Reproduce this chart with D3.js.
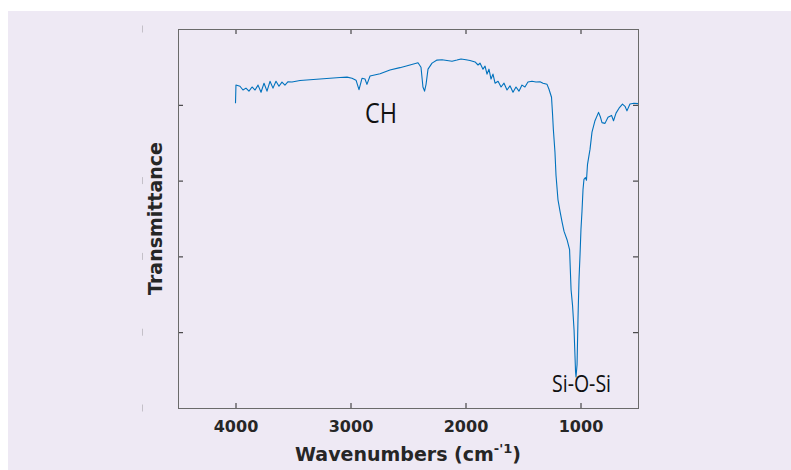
<!DOCTYPE html>
<html>
<head>
<meta charset="utf-8">
<script src="https://cdn.jsdelivr.net/npm/d3@7"></script>
<style>
  html, body { margin: 0; padding: 0; background: #ffffff; }
  svg { display: block; }
</style>
</head>
<body>
<svg id="chart" width="791" height="470"></svg>
<script>
// FTIR spectrum: wavenumber (cm^-1) against transmittance (arbitrary %)
const wavenumbers = [
  4000, 3996, 3961, 3935, 3909, 3883, 3856, 3830, 3804, 3778,
  3752, 3726, 3700, 3674, 3648, 3622, 3596, 3570, 3543, 3509,
  3439, 3352, 3265, 3178, 3091, 3030, 2987, 2952, 2926, 2900,
  2874, 2857, 2830, 2743, 2657, 2570, 2483, 2413, 2387, 2370,
  2356, 2343, 2326, 2291, 2248, 2204, 2161, 2117, 2074, 2039,
  1996, 1961, 1917, 1891, 1874, 1848, 1830, 1813, 1796, 1778,
  1761, 1743, 1717, 1691, 1665, 1639, 1613, 1587, 1561, 1535,
  1509, 1483, 1457, 1422, 1387, 1352, 1326, 1291, 1274, 1252,
  1243, 1236, 1222, 1213, 1196, 1178, 1161, 1143, 1117, 1095,
  1082, 1069, 1056, 1048, 1043, 1039, 1030, 1022, 1013, 1004,
  996, 987, 978, 970, 957, 948, 939, 917, 900, 874,
  843, 826, 813, 787, 761, 730, 713, 691, 665, 635,
  613, 596, 570, 535, 500
];
const transmittance = [
  80.4, 85.2, 84.9, 83.9, 84.4, 83.6, 84.7, 83.9, 85.2, 83.3,
  85.7, 83.6, 86.2, 84.4, 86.2, 84.9, 86.0, 85.2, 86.1, 86.0,
  86.4, 86.6, 86.8, 87.0, 87.2, 87.3, 87.0, 86.5, 84.0, 87.0,
  86.8, 85.4, 87.6, 88.2, 89.2, 89.8, 90.5, 91.1, 89.9, 84.7,
  83.6, 85.4, 89.4, 91.0, 91.8, 91.9, 91.7, 91.5, 91.8, 92.1,
  91.9, 91.7, 91.3, 90.5, 91.0, 89.4, 90.2, 88.1, 89.4, 86.8,
  88.1, 85.7, 86.2, 84.7, 85.7, 83.9, 85.0, 83.3, 84.7, 83.6,
  85.2, 84.7, 86.0, 86.2, 86.0, 86.1, 85.7, 85.4, 84.1, 82.0,
  77.5, 73.5, 67.5, 61.4, 55.0, 51.9, 49.2, 46.6, 44.4, 41.8,
  31.2, 27.0, 20.6, 13.8, 9.5, 8.2, 11.4, 23.3, 33.9, 40.5,
  47.1, 51.9, 57.7, 60.3, 60.8, 60.1, 64.3, 68.3, 72.8, 75.8,
  78.0, 76.7, 75.3, 75.1, 76.7, 77.2, 75.8, 77.8, 79.1, 80.2,
  79.6, 78.4, 80.2, 80.4, 80.3
];

// axis ticks
const xTicks = [4000, 3000, 2000, 1000];
const yTicks = [20, 40, 60, 80];

// band annotations: label, wavenumber, transmittance of the text baseline
const bandLabels = ["CH", "Si-O-Si"];
const bandWavenumbers = [2735, 991];
const bandLevels = [75.3, 4.2];

const svg = d3.select("#chart");
const W = 791, H = 470;
const plot = { left: 178, right: 638, top: 29, bottom: 408 };

// figure panel
svg.append("rect")
  .attr("x", 8).attr("y", 11)
  .attr("width", W - 8).attr("height", H - 11)
  .attr("fill", "#eee9f4");

const x = d3.scaleLinear().domain([4500, 500]).range([plot.left, plot.right]);
const y = d3.scaleLinear().domain([0, 100]).range([plot.bottom, plot.top]);

// faint stray tick marks left of the axes
const ghost = d3.scaleLinear().domain([0, 100]).range([plot.bottom, plot.top]);
svg.append("g")
  .selectAll("line")
  .data([0, 20, 40, 60, 100])
  .join("line")
  .attr("x1", 142.5).attr("x2", 142.5)
  .attr("y1", d => ghost(d) - 3.5)
  .attr("y2", d => ghost(d) + 3.5)
  .attr("stroke", "#c4c0c8")
  .attr("stroke-width", 1);

const tickColor = "#262626";
const tickFont = "'DejaVu Sans', sans-serif";

function styleAxis(g) {
  g.select(".domain").remove();
  g.selectAll(".tick line").attr("stroke", tickColor).attr("stroke-width", 1);
}

// bottom axis with labels
svg.append("g")
  .attr("transform", `translate(0,${plot.bottom})`)
  .call(d3.axisBottom(x).tickValues(xTicks).tickSize(-5).tickPadding(13).tickFormat(d3.format("d")))
  .call(styleAxis)
  .call(g => g.selectAll(".tick text")
    .attr("fill", tickColor)
    .attr("font-family", tickFont)
    .attr("font-weight", "bold")
    .attr("font-size", 16));

// top axis, ticks only
svg.append("g")
  .attr("transform", `translate(0,${plot.top})`)
  .call(d3.axisTop(x).tickValues(xTicks).tickSize(-5).tickFormat(""))
  .call(styleAxis);

// left and right axes, ticks only
svg.append("g")
  .attr("transform", `translate(${plot.left},0)`)
  .call(d3.axisLeft(y).tickValues(yTicks).tickSize(-5).tickFormat(""))
  .call(styleAxis);
svg.append("g")
  .attr("transform", `translate(${plot.right},0)`)
  .call(d3.axisRight(y).tickValues(yTicks).tickSize(-5).tickFormat(""))
  .call(styleAxis);

// axes box
svg.append("rect")
  .attr("x", plot.left + 0.5).attr("y", plot.top + 0.5)
  .attr("width", plot.right - plot.left).attr("height", plot.bottom - plot.top)
  .attr("fill", "none")
  .attr("stroke", "#6a6a6a")
  .attr("stroke-width", 1);

// spectrum
const spectrum = wavenumbers.map((wn, i) => ({ wn, t: transmittance[i] }));
svg.append("path")
  .datum(spectrum)
  .attr("fill", "none")
  .attr("stroke", "#0072bd")
  .attr("stroke-width", 1.1)
  .attr("stroke-linejoin", "round")
  .attr("d", d3.line().x(d => x(d.wn)).y(d => y(d.t)));

// band annotations
const bandSizes = [28, 23];
const bandWidths = [32, 59];
svg.append("g")
  .selectAll("text")
  .data(bandLabels)
  .join("text")
  .attr("x", (d, i) => x(bandWavenumbers[i]))
  .attr("y", (d, i) => y(bandLevels[i]))
  .attr("text-anchor", "middle")
  .attr("font-family", "'Open Sans', sans-serif")
  .attr("font-size", (d, i) => bandSizes[i])
  .attr("textLength", (d, i) => bandWidths[i])
  .attr("lengthAdjust", "spacingAndGlyphs")
  .attr("fill", "#111111")
  .text(d => d);

// axis titles
const xTitle = svg.append("text")
  .attr("x", (plot.left + plot.right) / 2)
  .attr("y", 461)
  .attr("text-anchor", "middle")
  .attr("font-family", tickFont)
  .attr("font-weight", "bold")
  .attr("font-size", 19)
  .attr("fill", tickColor);
xTitle.append("tspan").text("Wavenumbers (cm");
xTitle.append("tspan").attr("dy", -8).attr("font-size", 13).text("-'1");
xTitle.append("tspan").attr("dy", 8).text(")");

svg.append("text")
  .attr("transform", `translate(162,${(plot.top + plot.bottom) / 2}) rotate(-90)`)
  .attr("text-anchor", "middle")
  .attr("font-family", tickFont)
  .attr("font-weight", "bold")
  .attr("font-size", 19)
  .attr("fill", tickColor)
  .text("Transmittance");
</script>
</body>
</html>
